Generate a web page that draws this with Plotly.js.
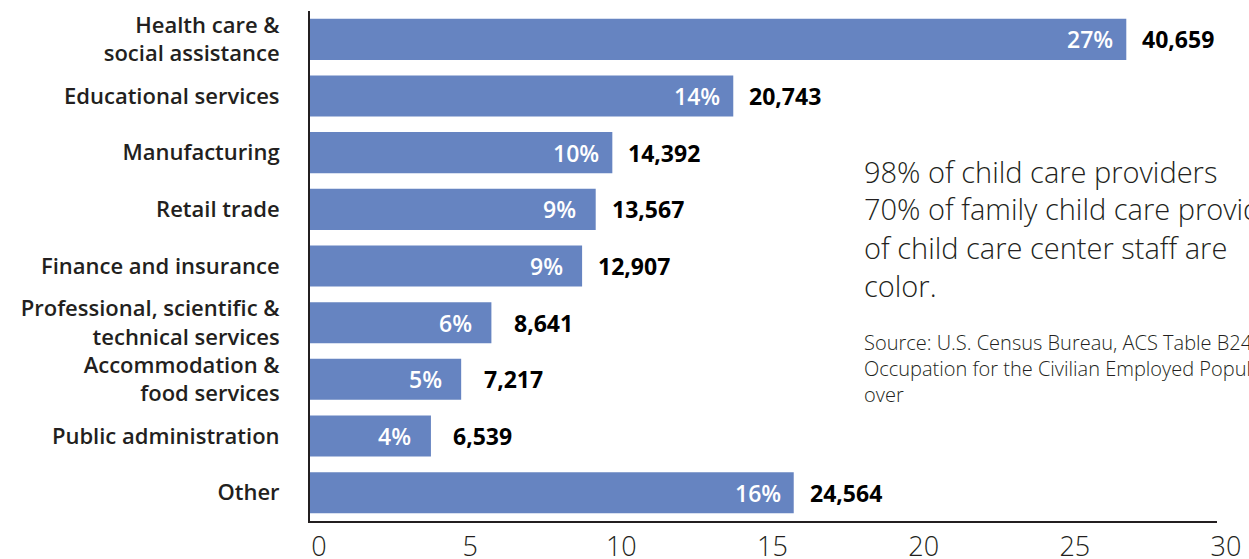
<!DOCTYPE html>
<html>
<head>
<meta charset="utf-8">
<script src="https://cdn.plot.ly/plotly-3.0.1.min.js"></script>
<style>html,body{margin:0;padding:0;background:#fff;}#chart{width:1249px;height:559px;}</style>
</head>
<body>
<div id="chart"></div>
<script>
// ---- data ----
const categories = [
  "Health care &<br>social assistance",
  "Educational services",
  "Manufacturing",
  "Retail trade",
  "Finance and insurance",
  "Professional, scientific &<br>technical services",
  "Accommodation &<br>food services",
  "Public administration",
  "Other"
];
const barValues = [27, 14, 10, 9.45, 9, 6, 5, 4, 16];
const percentLabels = ["27%", "14%", "10%", "9%", "9%", "6%", "5%", "4%", "16%"];
const countLabels = ["40,659", "20,743", "14,392", "13,567", "12,907", "8,641", "7,217", "6,539", "24,564"];
const xTickValues = [0, 5, 10, 15, 20, 25, 30];
const noteLines = [
  "98% of child care providers",
  "70% of family child care providers",
  "of child care center staff are",
  "color."
];
const sourceLines = [
  "Source: U.S. Census Bureau, ACS Table B24050",
  "Occupation for the Civilian Employed Population",
  "over"
];

const dark = "#231f20";
const barColor = "#6684c1";
const labelFont = "'Open Sans', Lato, sans-serif";

const annotations = [];
categories.forEach((c, i) => {
  annotations.push({
    x: barValues[i], y: c, xref: "x", yref: "y",
    text: percentLabels[i], showarrow: false,
    xanchor: "center", xshift: -36,
    font: {family: labelFont, size: 23, color: "#ffffff", weight: 600}
  });
  annotations.push({
    x: barValues[i], y: c, xref: "x", yref: "y",
    text: countLabels[i], showarrow: false,
    xanchor: "center", xshift: 52,
    font: {family: labelFont, size: 23, color: "#000000", weight: 700}
  });
});
noteLines.forEach((t, i) => {
  annotations.push({
    x: 0.6086, xref: "paper", y: (521 - (171 + i * 38)) / 510, yref: "paper",
    text: t, showarrow: false, xanchor: "left", yanchor: "middle", align: "left",
    font: {family: labelFont, size: 29, color: dark, weight: 300}
  });
});
sourceLines.forEach((t, i) => {
  annotations.push({
    x: 0.6086, xref: "paper", y: (521 - (342 + i * 26)) / 510, yref: "paper",
    text: t, showarrow: false, xanchor: "left", yanchor: "middle", align: "left",
    font: {family: labelFont, size: 20, color: dark, weight: 300}
  });
});

const trace = {
  type: "bar", orientation: "h",
  x: barValues, y: categories,
  marker: {color: barColor},
  hoverinfo: "skip"
};

const layout = {
  width: 1249, height: 559,
  margin: {l: 310, r: 32, t: 11, b: 38, pad: 0},
  paper_bgcolor: "#ffffff", plot_bgcolor: "#ffffff",
  showlegend: false,
  bargap: 0.275,
  xaxis: {
    range: [0, 30], tickvals: xTickValues, ticktext: xTickValues.map(String),
    showgrid: false, zeroline: false,
    showline: true, linecolor: dark, linewidth: 2,
    ticks: "outside", ticklen: 1, tickcolor: "rgba(0,0,0,0)",
    ticklabelshift: 9,
    tickfont: {family: labelFont, size: 27, color: dark, weight: 300}
  },
  yaxis: {
    type: "category", categoryorder: "array", categoryarray: categories,
    range: [8.5, -0.5],
    showgrid: false, zeroline: false,
    showline: true, linecolor: dark, linewidth: 2,
    ticks: "outside", ticklen: 24, tickcolor: "rgba(0,0,0,0)",
    tickfont: {family: labelFont, size: 22, color: dark, weight: 600}
  },
  annotations: annotations
};

Plotly.newPlot("chart", [trace], layout, {displayModeBar: false, staticPlot: true});
</script>
</body>
</html>
